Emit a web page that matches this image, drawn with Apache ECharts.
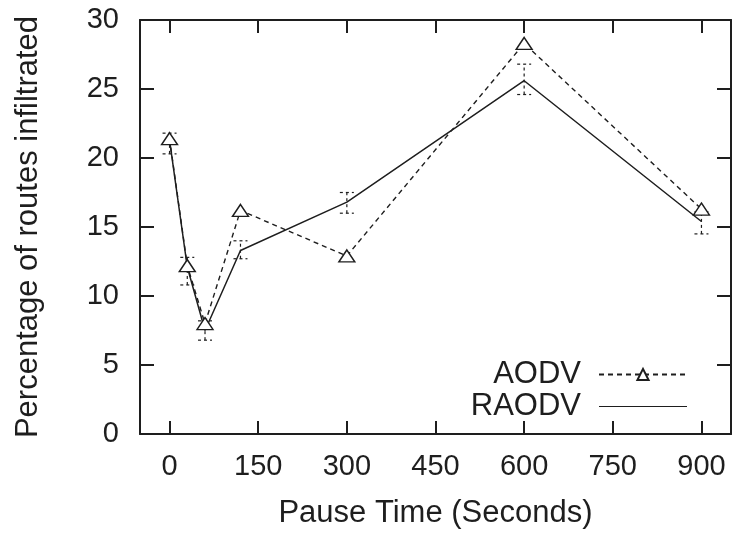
<!DOCTYPE html>
<html>
<head>
<meta charset="utf-8">
<script src="https://cdn.jsdelivr.net/npm/echarts@6/dist/echarts.min.js"></script>
<style>html,body{margin:0;padding:0;background:#fff;}#chart{width:734px;height:534px;}</style>
</head>
<body>
<div id="chart"></div>
<script>
var pauseTimes = [0, 30, 60, 120, 300, 600, 900];
var aodv = [21.4, 12.2, 8.0, 16.2, 12.9, 28.3, 16.3];
var raodv = [21.3, 12.1, 7.5, 13.3, 16.8, 25.6, 15.4];
var errLow = [20.3, 10.8, 6.8, 12.7, 16.0, 24.6, 14.5];
var errHigh = [21.8, 12.8, 8.2, 14.0, 17.5, 26.8, 16.1];
var xTicks = [0, 150, 300, 450, 600, 750, 900];

var FONT = '"Liberation Sans", Arial, sans-serif';
var INK = '#1e1e1e';

function pairs(xs, ys) { return xs.map(function (x, i) { return [x, ys[i]]; }); }

var chart = echarts.init(document.getElementById('chart'));
chart.setOption({
  backgroundColor: '#fff',
  animation: false,
  grid: { left: 140, right: 3, top: 20, bottom: 97 },
  legend: {
    orient: 'vertical',
    right: 41,
    top: 354,
    align: 'right',
    itemWidth: 88,
    itemHeight: 14,
    itemGap: 1,
    textStyle: { fontFamily: FONT, fontSize: 31, color: INK, lineHeight: 31, padding: [0, 13, 0, 0] },
    data: [
      { name: 'AODV' },
      { name: 'RAODV', icon: 'path://M0,0 L100,0 L100,1.2 L0,1.2 Z', itemStyle: { color: INK, borderWidth: 0 } }
    ]
  },
  xAxis: [{
    type: 'value', min: -50, max: 950,
    name: 'Pause Time (Seconds)', nameLocation: 'middle', nameGap: 64,
    nameTextStyle: { fontFamily: FONT, fontSize: 31, color: INK },
    axisLine: { show: true, onZero: false, lineStyle: { color: INK, width: 2 } },
    axisTick: { show: true, inside: true, length: 13, customValues: xTicks, lineStyle: { color: INK, width: 2 } },
    axisLabel: { customValues: xTicks, fontFamily: FONT, fontSize: 29, color: INK, margin: 18 },
    splitLine: { show: false }
  }, {
    type: 'value', min: -50, max: 950, position: 'top',
    axisLine: { show: true, onZero: false, lineStyle: { color: INK, width: 2 } },
    axisTick: { show: true, inside: true, length: 13, customValues: xTicks, lineStyle: { color: INK, width: 2 } },
    axisLabel: { show: false },
    splitLine: { show: false }
  }],
  yAxis: [{
    type: 'value', min: 0, max: 30, interval: 5,
    name: 'Percentage of routes infiltrated', nameLocation: 'middle', nameGap: 96, nameRotate: 90,
    nameTextStyle: { fontFamily: FONT, fontSize: 31, color: INK },
    axisLine: { show: true, onZero: false, lineStyle: { color: INK, width: 2 } },
    axisTick: { show: true, inside: true, length: 14, lineStyle: { color: INK, width: 2 } },
    axisLabel: { fontFamily: FONT, fontSize: 29, color: INK, margin: 21 },
    splitLine: { show: false }
  }, {
    type: 'value', min: 0, max: 30, interval: 5, position: 'right',
    axisLine: { show: true, onZero: false, lineStyle: { color: INK, width: 2 } },
    axisTick: { show: true, inside: true, length: 14, lineStyle: { color: INK, width: 2 } },
    axisLabel: { show: false },
    splitLine: { show: false }
  }],
  series: [{
    name: 'errorbars',
    type: 'custom',
    xAxisIndex: 0, yAxisIndex: 0,
    silent: true,
    data: pauseTimes.map(function (x, i) { return [x, errLow[i], errHigh[i]]; }),
    renderItem: function (params, api) {
      var lo = api.coord([api.value(0), api.value(1)]);
      var hi = api.coord([api.value(0), api.value(2)]);
      var hw = 7;
      var st = { stroke: INK, lineWidth: 1.2, lineDash: [3, 3] };
      return {
        type: 'group',
        children: [
          { type: 'line', shape: { x1: lo[0], y1: lo[1], x2: hi[0], y2: hi[1] }, style: st },
          { type: 'line', shape: { x1: lo[0] - hw, y1: lo[1], x2: lo[0] + hw, y2: lo[1] }, style: st },
          { type: 'line', shape: { x1: hi[0] - hw, y1: hi[1], x2: hi[0] + hw, y2: hi[1] }, style: st }
        ]
      };
    },
    z: 1
  }, {
    name: 'AODV',
    type: 'line',
    data: pairs(pauseTimes, aodv),
    symbol: 'triangle',
    symbolSize: [16, 12],
    showAllSymbol: true,
    lineStyle: { color: INK, width: 1.4, type: [5, 4] },
    itemStyle: { color: '#fff', borderColor: INK, borderWidth: 1.4 },
    z: 3
  }, {
    name: 'RAODV',
    type: 'line',
    data: pairs(pauseTimes, raodv),
    symbol: 'none',
    lineStyle: { color: INK, width: 1.5 },
    itemStyle: { color: INK },
    z: 2
  }]
});
</script>
</body>
</html>
